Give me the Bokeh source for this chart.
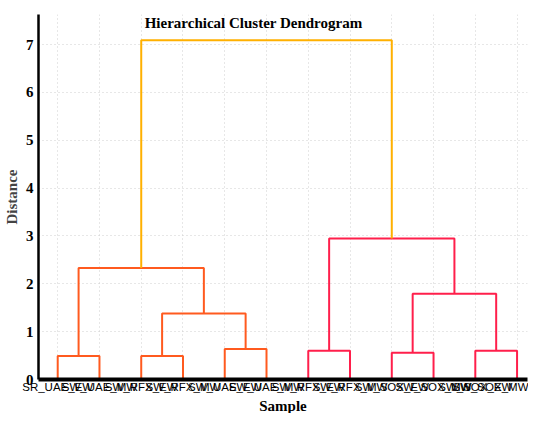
from bokeh.plotting import figure
from bokeh.models import Range1d, FixedTicker, Label, ColumnDataSource, Title
from bokeh.embed import file_html
from bokeh.resources import INLINE

# ---- data ----
leaf_labels = ["SR_UAE_EW", "SW_UAE_MW", "SW_RFX_EW", "SW_RFX_MW",
               "SW_UAE_EW", "SW_UAE_MW", "SW_RFX_EW", "SW_RFX_MW",
               "SW_SOX_EW", "SW_SOX_MW", "SW_SOX_EW", "SW_SOX_MW"]
merge_left = [0, 2, 4, 13, 12, 6, 8, 10, 18, 17, 16]
merge_right = [1, 3, 5, 14, 15, 7, 9, 11, 19, 20, 21]
merge_height = [0.49, 0.49, 0.64, 1.38, 2.33, 0.60, 0.56, 0.60, 1.79, 2.95, 7.09]
merge_group = ["A", "A", "A", "A", "A", "B", "B", "B", "B", "B", "top"]
group_colors = {"A": "#FF5A1F", "B": "#FF1F4B", "top": "#FFB000"}
y_ticks = [0, 1, 2, 3, 4, 5, 6, 7]

# ---- build dendrogram segments ----
n = len(leaf_labels)
node_x = [i + 0.5 for i in range(n)]
node_h = [0.0] * n
xs, ys, cols = [], [], []
for l, r, h, g in zip(merge_left, merge_right, merge_height, merge_group):
    xl, xr = node_x[l], node_x[r]
    xs.append([xl, xl, xr, xr])
    ys.append([node_h[l], h, h, node_h[r]])
    cols.append(group_colors[g])
    node_x.append((xl + xr) / 2)
    node_h.append(h)

src = ColumnDataSource(dict(xs=xs, ys=ys, color=cols))

Y_TOP = 7.63
p = figure(width=528, height=413, output_backend="svg", toolbar_location=None,
           x_range=Range1d(0.04, 11.75), y_range=Range1d(0, Y_TOP),
           min_border_left=0, min_border_right=1, min_border_top=14,
           min_border_bottom=0)
p.outline_line_color = None
p.background_fill_color = "white"

p.multi_line(xs="xs", ys="ys", line_color="color", line_width=2, source=src)

# axes
p.xaxis.ticker = FixedTicker(ticks=[i + 0.5 for i in range(n)])
p.xaxis.major_label_overrides = {i + 0.5: lab for i, lab in enumerate(leaf_labels)}
p.xaxis.major_label_text_font = "Liberation Sans Narrow, Liberation Sans"
p.xaxis.major_label_text_font_size = "11.5px"
p.xaxis.major_label_text_color = "black"
p.xaxis.major_label_standoff = 1
p.xaxis.axis_line_width = 4
p.xaxis.axis_line_color = "black"

sample_title = Title(text="Sample", align="center", standoff=0,
                     text_font="Liberation Serif", text_font_style="bold",
                     text_font_size="15px", text_color="black")
p.add_layout(sample_title, "below")

p.yaxis.ticker = FixedTicker(ticks=y_ticks)
p.yaxis.major_label_text_font = "Liberation Serif"
p.yaxis.major_label_text_font_style = "bold"
p.yaxis.major_label_text_font_size = "15px"
p.yaxis.major_label_text_color = "black"
p.yaxis.major_label_standoff = 5
p.yaxis.axis_label = "Distance"
p.yaxis.axis_label_text_font = "Liberation Serif"
p.yaxis.axis_label_text_font_style = "bold"
p.yaxis.axis_label_text_font_size = "15px"
p.yaxis.axis_label_standoff = 3
p.yaxis.axis_line_width = 2.5
p.yaxis.axis_line_color = "black"

for ax in (p.xaxis, p.yaxis):
    ax.major_tick_line_color = None
    ax.minor_tick_line_color = None
    ax.major_tick_out = 0
    ax.major_tick_in = 0

p.grid.grid_line_color = "#cfcfcf"
p.grid.grid_line_dash = "1 3"
p.grid.grid_line_width = 1

title = Label(x=5.19, y=Y_TOP - 0.02, text="Hierarchical Cluster Dendrogram",
              text_font="Liberation Serif", text_font_style="bold",
              text_font_size="15px", text_align="center",
              text_baseline="top", text_color="black")
p.add_layout(title)

open("out.html", "w").write(file_html(p, INLINE))
